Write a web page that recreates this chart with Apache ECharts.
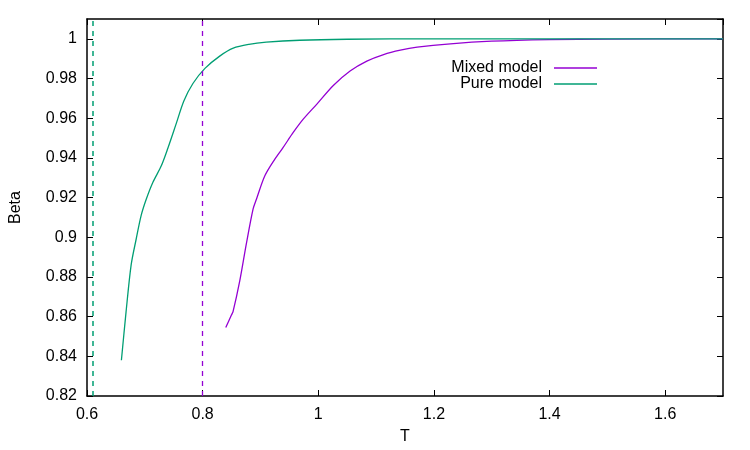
<!DOCTYPE html>
<html lang="en">
<head>
    <meta charset="UTF-8">
    <title>Beta vs T</title>
    <style>
        html, body { margin: 0; padding: 0; background: #fff; }
    </style>
</head>
<body>
<div id="main" style="width: 750px;height:450px;"></div>
<script src="https://cdn.jsdelivr.net/npm/echarts@6/dist/echarts.min.js"></script>
<script>
    // Pure model curve
    var pureT = [0.6595, 0.6676, 0.6763, 0.685, 0.6937, 0.7023, 0.714, 0.7285, 0.74, 0.754,
        0.7675, 0.7832, 0.804, 0.8295, 0.853, 0.88, 0.91, 0.968, 1.05, 1.2, 1.7];
    var pureBeta = [0.838, 0.8625, 0.886, 0.899, 0.911, 0.919, 0.9277, 0.936, 0.945, 0.957,
        0.9687, 0.9775, 0.9851, 0.9913, 0.9953, 0.9972, 0.9983, 0.9993, 0.9998, 1.0, 1.0];

    // Mixed model curve
    var mixedT = [0.84, 0.8498, 0.8526, 0.8642, 0.8758, 0.8873, 0.8932, 0.9076, 0.9249, 0.9393,
        0.9567, 0.974, 0.9972, 1.026, 1.055, 1.084, 1.113, 1.142, 1.171, 1.2285, 1.3, 1.4, 1.5, 1.7];
    var mixedBeta = [0.8545, 0.8608, 0.8625, 0.878, 0.897, 0.9143, 0.9193, 0.931, 0.9394, 0.9453,
        0.9528, 0.9595, 0.967, 0.9765, 0.9838, 0.9888, 0.9921, 0.9943, 0.9958, 0.9975, 0.9988, 0.9996, 0.9999, 1.0];

    // dashed vertical markers
    var pureTc = 0.6115;
    var mixedTc = 0.804;

    var pureColor = '#009e73';
    var mixedColor = '#9400d3';

    function pairs(xs, ys) {
        var out = [];
        for (var i = 0; i < xs.length; i++) {
            out.push([xs[i], ys[i]]);
        }
        return out;
    }

    var font = 'Liberation Sans';
    var fontSize = 16;

    var axisLine = { show: true, lineStyle: { color: '#000', width: 1.5 } };
    var tick = { show: true, inside: true, length: 6, lineStyle: { color: '#000', width: 1 } };

    var myChart = echarts.init(document.getElementById('main'));

    var option = {
        animation: false,
        backgroundColor: '#fff',
        grid: { left: 87, right: 27, top: 19, bottom: 52 },
        legend: [
            {
                data: ['Mixed model'],
                right: 153, top: 60, padding: 0,
                align: 'right', icon: 'rect',
                itemWidth: 43, itemHeight: 1.5,
                textStyle: { fontFamily: font, fontSize: fontSize, color: '#000', padding: [0, 7, 0, 0] }
            },
            {
                data: ['Pure model'],
                right: 153, top: 76, padding: 0,
                align: 'right', icon: 'rect',
                itemWidth: 43, itemHeight: 1.5,
                textStyle: { fontFamily: font, fontSize: fontSize, color: '#000', padding: [0, 7, 0, 0] }
            }
        ],
        xAxis: [
            {
                type: 'value', min: 0.6, max: 1.7, interval: 0.2,
                name: 'T', nameLocation: 'middle', nameGap: 33,
                nameTextStyle: { fontFamily: font, fontSize: fontSize, color: '#000' },
                axisLine: axisLine, axisTick: tick,
                axisLabel: { margin: 11, showMaxLabel: false, fontFamily: font, fontSize: fontSize, color: '#000' },
                splitLine: { show: false }
            },
            {
                type: 'value', position: 'top', min: 0.6, max: 1.7, interval: 0.2,
                axisLine: axisLine, axisTick: tick,
                axisLabel: { show: false }, splitLine: { show: false }
            }
        ],
        yAxis: [
            {
                type: 'value', min: 0.82, max: 1.01, interval: 0.02,
                name: 'Beta', nameLocation: 'middle', nameGap: 63,
                nameTextStyle: { fontFamily: font, fontSize: fontSize, color: '#000' },
                axisLine: axisLine, axisTick: tick,
                axisLabel: { margin: 10, showMaxLabel: false, fontFamily: font, fontSize: fontSize, color: '#000' },
                splitLine: { show: false }
            },
            {
                type: 'value', position: 'right', min: 0.82, max: 1.01, interval: 0.02,
                axisLine: axisLine, axisTick: tick,
                axisLabel: { show: false }, splitLine: { show: false }
            }
        ],
        series: [
            {
                name: 'Mixed model',
                type: 'line',
                data: pairs(mixedT, mixedBeta),
                smooth: 0.3,
                showSymbol: false,
                color: mixedColor,
                lineStyle: { width: 1.3, color: mixedColor },
                markLine: {
                    silent: true, symbol: 'none', label: { show: false },
                    lineStyle: { color: mixedColor, type: [5, 5], width: 1.3 },
                    data: [{ xAxis: mixedTc }]
                }
            },
            {
                name: 'Pure model',
                type: 'line',
                data: pairs(pureT, pureBeta),
                smooth: 0.3,
                showSymbol: false,
                color: pureColor,
                lineStyle: { width: 1.3, color: pureColor },
                markLine: {
                    silent: true, symbol: 'none', label: { show: false },
                    lineStyle: { color: pureColor, type: [5, 5], width: 1.5 },
                    data: [{ xAxis: pureTc }]
                }
            }
        ]
    };
    myChart.setOption(option);
</script>
</body>
</html>
